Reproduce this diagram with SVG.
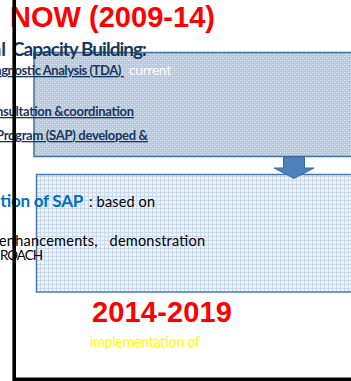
<svg xmlns="http://www.w3.org/2000/svg" width="351" height="381" viewBox="0 0 351 381">
<defs>
<pattern id="dots" width="4" height="4" patternUnits="userSpaceOnUse">
<rect width="4" height="4" fill="#b4c9e3"/>
<rect x="0" y="0" width="1" height="1" fill="#e4ecf6"/>
<rect x="2" y="2" width="1" height="1" fill="#e4ecf6"/>
<rect x="2" y="0" width="1" height="1" fill="#c8d8ec"/>
</pattern>
<pattern id="grid" width="4" height="4" patternUnits="userSpaceOnUse">
<rect width="4" height="4" fill="#eef3fa"/>
<rect x="0" y="0" width="4" height="1" fill="#c9d9ee"/>
<rect x="0" y="0" width="1" height="4" fill="#c9d9ee"/>
</pattern>
<style>
.t{font-family:Lato,"Liberation Sans",sans-serif}
.h{font-family:"Liberation Sans",Arial,sans-serif;font-weight:bold;fill:#ff0000}
.db{fill:#17375e;font-weight:bold;text-decoration:underline}
</style>
</defs>
<g id="box1"><rect x="34" y="52.5" width="330" height="104" fill="url(#dots)" stroke="#41719c" stroke-width="1.5"/></g>
<g id="box2"><rect x="36.5" y="174.5" width="330" height="117.5" fill="url(#grid)" stroke="#4a78ad" stroke-width="1.5"/></g>
<g id="connectors">
<path d="M283.5 157 H304.5 V168 H314 L294 178.5 L274 168 H283.5 Z" fill="#4f81bd" stroke="#3b6aa0" stroke-width="1"/>
</g>
<g id="texts">
<text class="h" x="10" y="27" font-size="29" textLength="205">NOW (2009-14)</text>
<text class="t" x="6" y="56" font-size="19" font-weight="bold" fill="#17375e" text-anchor="end">al</text>
<text class="t" x="12" y="56" font-size="19" font-weight="bold" fill="#17375e" textLength="135">Capacity Building:</text>
<text class="t db" x="-5" y="75" font-size="13" textLength="129" xml:space="preserve">agnostic Analysis (TDA) </text>
<text class="t" x="129" y="75" font-size="13.5" fill="#ffffff" textLength="42">current</text>
<text class="t db" x="-4" y="116" font-size="13" textLength="138">nsultation &amp;coordination</text>
<text class="t db" x="-4" y="140" font-size="13" textLength="152">Program (SAP) developed &amp;</text>
<text class="t" x="0" y="207" font-size="17" font-weight="bold" fill="#0070c0" textLength="83">tion of SAP</text>
<text class="t" x="89" y="207" font-size="14.5" fill="#000000" textLength="66">: based on</text>
<text class="t" x="-1" y="246" font-size="14.5" fill="#000000" textLength="206" xml:space="preserve">enhancements,   demonstration</text>
<text class="t" x="0" y="260" font-size="13.5" fill="#000000" textLength="43">ROACH</text>
<text class="h" x="92" y="322" font-size="29" textLength="140">2014-2019</text>
<text class="t" x="90" y="347" font-size="14.5" fill="#ffff00" textLength="110">implementation of</text>
</g>
<g id="frame"><path d="M14.2 0 V379.2 H351" fill="none" stroke="#000000" stroke-width="3.6"/></g>
</svg>
